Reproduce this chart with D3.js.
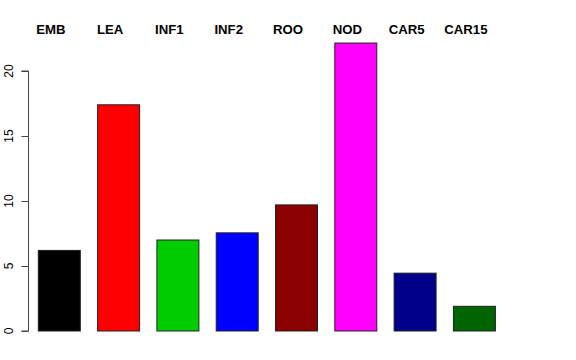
<!DOCTYPE html>
<html><head><meta charset="utf-8">
<script src="https://cdn.jsdelivr.net/npm/d3@7/dist/d3.min.js"></script>
<style>body{margin:0;background:#fff;} svg{display:block;}</style>
</head><body>
<svg id="c" width="576" height="360"></svg>
<script>
const categories = ["EMB","LEA","INF1","INF2","ROO","NOD","CAR5","CAR15"];
const values = [6.2, 17.4, 7.0, 7.55, 9.7, 22.15, 4.45, 1.9];
const colors = ["#000000","#FF0000","#00CD00","#0000FF","#8B0000","#FF00FF","#00008B","#006400"];
const yTicks = [0, 5, 10, 15, 20];

const svg = d3.select("#c");
const font = "'Liberation Sans', Arial, Helvetica, sans-serif";

const x = d3.scaleBand().domain(categories).range([29.65, 504.05])
  .paddingInner(0.292).paddingOuter(0.146);
const y = d3.scaleLinear().domain([0, 20]).range([331, 71]);

// bars
svg.append("g").selectAll("rect").data(categories).join("rect")
  .attr("x", d => x(d))
  .attr("y", (d,i) => y(values[i]))
  .attr("width", x.bandwidth())
  .attr("height", (d,i) => y(0) - y(values[i]))
  .attr("fill", (d,i) => colors[i])
  .attr("stroke", "#222")
  .attr("stroke-width", 1);

// y axis
const ax = svg.append("g").attr("transform", "translate(28.5,0)")
  .call(d3.axisLeft(y).tickValues(yTicks).tickSize(7).tickPadding(9).tickFormat(d3.format("d")));
ax.select(".domain").attr("stroke", "#444").attr("d", `M-7,${y(20)}H0V${y(0)}H-7`);
ax.selectAll(".tick line").attr("stroke", "#444");
ax.selectAll(".tick text")
  .attr("font-family", font).attr("font-size", 12).attr("fill", "#000")
  .attr("transform", function(d){ return `translate(${-15.5},${y(d)}) rotate(-90)`; })
  .attr("x", 0).attr("y", 0).attr("dy", "0").attr("text-anchor", "middle");
ax.selectAll(".tick").attr("transform", null);
ax.selectAll(".tick line").attr("transform", d => `translate(0,${y(d)+0.5})`);

// top labels
svg.append("g").selectAll("text").data(categories).join("text")
  .attr("x", d => x(d) + x.bandwidth()/2 - 8.5)
  .attr("y", 34)
  .attr("text-anchor", "middle")
  .attr("font-family", font).attr("font-weight", "bold").attr("font-size", 13.2)
  .attr("fill", "#000")
  .text(d => d);
</script>
</body></html>
